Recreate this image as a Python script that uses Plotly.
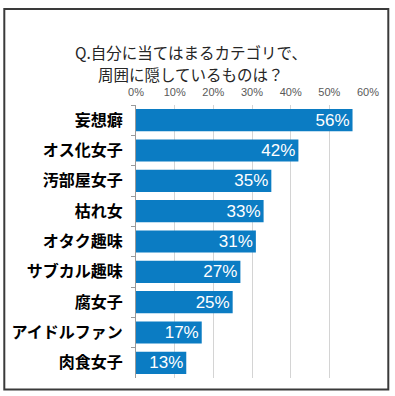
import plotly.graph_objects as go

categories = ["妄想癖", "オス化女子", "汚部屋女子", "枯れ女", "オタク趣味",
              "サブカル趣味", "腐女子", "アイドルファン", "肉食女子"]
values = [56, 42, 35, 33, 31, 27, 25, 17, 13]
value_labels = [f"{v}%" for v in values]
tick_values = [0, 10, 20, 30, 40, 50, 60]
tick_labels = ["0%", "10%", "20%", "30%", "40%", "50%", "60%"]
title_lines = ["Q.自分に当てはまるカテゴリで、", "周囲に隠しているものは？"]

W, H = 395, 396
L, R, T, B = 135.7, 367.7, 105, 378  # plot area in px


def px_x(px):
    return (px - L) / (R - L)


def px_y(py):
    return (B - py) / (B - T)


fig = go.Figure(go.Bar(
    x=values, y=categories, orientation="h",
    marker=dict(color="#0b7cc3", line=dict(width=0)),
    text=value_labels, textposition="inside", insidetextanchor="end",
    constraintext="none",
    textfont=dict(family="Liberation Sans", size=17, color="white"),
    cliponaxis=False, hoverinfo="skip",
))

fig.update_layout(
    width=W, height=H,
    margin=dict(l=L, r=W - R, t=T, b=H - B, pad=0),
    paper_bgcolor="white", plot_bgcolor="white",
    bargap=0.27, showlegend=False,
    xaxis=dict(
        range=[0, 60], side="top", tickvals=tick_values, ticktext=tick_labels,
        tickfont=dict(family="Liberation Sans", size=11, color="#595959"),
        showgrid=True, gridcolor="#d4d4d4", gridwidth=1,
        zeroline=False, showline=False, ticks="", ticklabelstandoff=6,
        fixedrange=True,
    ),
    yaxis=dict(
        autorange="reversed", type="category",
        tickfont=dict(family="Noto Sans CJK JP", size=16, color="black", weight="bold"),
        showline=True, linecolor="#9a9a9a", linewidth=1,
        ticks="outside", tickson="boundaries", ticklen=4, tickcolor="#9a9a9a",
        showgrid=False, fixedrange=True, ticklabelstandoff=9,
    ),
)

for line, cy in zip(title_lines, [51.5, 74]):
    fig.add_annotation(
        text=line, xref="paper", yref="paper",
        x=px_x(191), y=px_y(cy), xanchor="center", yanchor="middle",
        showarrow=False, align="center", borderpad=0,
        font=dict(family="Noto Sans CJK JP", size=15.5, color="#262626"),
    )

fig.add_shape(
    type="rect", xref="paper", yref="paper",
    x0=px_x(4), x1=px_x(388), y0=px_y(389.5), y1=px_y(9),
    line=dict(color="#3a3a3a", width=2), fillcolor="rgba(0,0,0,0)", layer="above",
)

fig.write_html(
    "out.html",
    config={"displayModeBar": False, "staticPlot": True},
    post_script="document.documentElement.style.margin='0';"
                "document.body.style.margin='0';"
                "document.body.style.overflow='hidden';",
)
